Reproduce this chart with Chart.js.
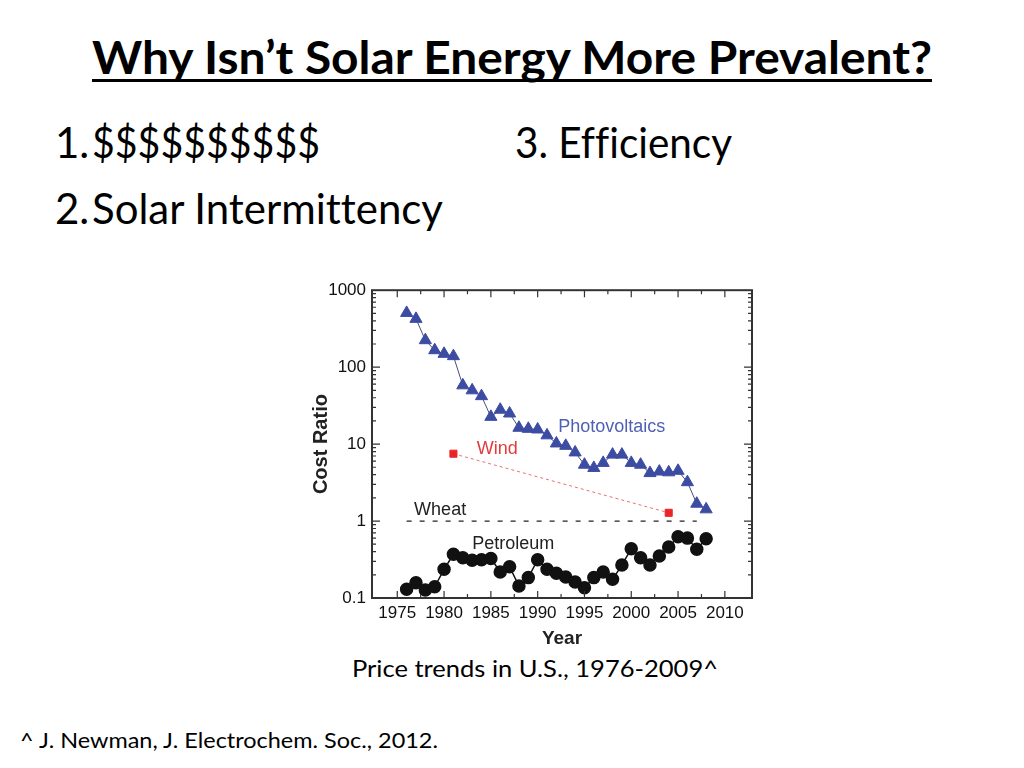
<!DOCTYPE html>
<html>
<head>
<meta charset="utf-8">
<script src="https://cdn.jsdelivr.net/npm/chart.js@4/dist/chart.umd.min.js"></script>
<style>
  body { margin: 0; background: #fff; width: 1024px; height: 768px; overflow: hidden; position: relative; font-family: Lato, "Open Sans", sans-serif; color: #000; font-variant-ligatures: none; }
  .t { position: absolute; white-space: nowrap; line-height: 1; transform-origin: left top; }
  #box { position: absolute; left: 300px; top: 274px; width: 470px; height: 384px; }
</style>
</head>
<body>
<div class="t" data-w="840" style="left:92px;top:34px;font-size:46px;font-weight:bold">Why Isn’t Solar Energy More Prevalent?</div>
<div style="position:absolute;left:92px;top:79px;width:840px;height:3px;background:#000"></div>
<div class="t" style="left:55px;top:121px;font-size:42px">1.</div>
<div class="t" data-w="228" style="left:92px;top:121px;font-size:42px">$$$$$$$$$$</div>
<div class="t" style="left:55px;top:187px;font-size:42px">2.</div>
<div class="t" data-w="351" style="left:92px;top:187px;font-size:42px">Solar Intermittency</div>
<div class="t" data-w="217" style="left:515px;top:121px;font-size:42px">3. Efficiency</div>
<div class="t" data-w="366" style="left:352px;top:657px;font-size:23px">Price trends in U.S., 1976-2009^</div>
<div class="t" data-w="418" style="left:20px;top:729px;font-size:21px">^ J. Newman, J. Electrochem. Soc., 2012.</div>

<div id="box"><canvas id="myChart" width="470" height="384"></canvas></div>

<script>
// fit slide text to the widths measured on the reference
document.querySelectorAll('.t[data-w]').forEach(el => {
  const w = el.getBoundingClientRect().width;
  el.style.transform = 'scaleX(' + (el.dataset.w / w) + ')';
});

const pvYears = [1976, 1977, 1978, 1979, 1980, 1981, 1982, 1983, 1984, 1985, 1986, 1987, 1988, 1989, 1990, 1991, 1992,
  1993, 1994, 1995, 1996, 1997, 1998, 1999, 2000, 2001, 2002, 2003, 2004, 2005, 2006, 2007, 2008];
const pvValues = [507, 424, 224, 166, 149, 139, 58, 50, 42, 22.6, 28, 25, 16.3, 15.8, 15.5, 13, 10.2,
  9.5, 7.8, 5.4, 4.9, 5.7, 7.3, 7.3, 5.7, 5.4, 4.2, 4.4, 4.3, 4.5, 3.2, 1.68, 1.42];

const windYears = [1981, 2004];
const windValues = [7.5, 1.28];

const wheatYears = [1976, 2007];
const wheatValues = [1, 1];

const oilYears = pvYears;
const oilValues = [0.13, 0.158, 0.127, 0.14, 0.236, 0.37, 0.334, 0.31, 0.315, 0.327, 0.218, 0.255, 0.143, 0.184, 0.315, 0.236, 0.21,
  0.187, 0.161, 0.136, 0.184, 0.218, 0.175, 0.268, 0.437, 0.334, 0.268, 0.351, 0.46, 0.626, 0.6, 0.43, 0.59];

const xTicks = [1975, 1980, 1985, 1990, 1995, 2000, 2005, 2010];
const xTickLabels = ['1975', '1980', '1985', '1990', '1995', '2000', '2005', '2010'];
const yTicks = [0.1, 1, 10, 100, 1000];
const yTickLabels = ['0.1', '1', '10', '100', '1000'];

const labelTexts = ['Photovoltaics', 'Wind', 'Wheat', 'Petroleum'];
const labelYears = [1992.2, 1983.5, 1976.8, 1983.0];
const labelValues = [16.9, 8.5, 1.39, 0.51];
const labelColors = ['#4f5fb5', '#e33a3a', '#222', '#222'];

const pts = (xs, ys) => xs.map((x, i) => ({ x: x, y: ys[i] }));
const FONT = '"Liberation Sans", Arial, sans-serif';

const frameTicks = {
  id: 'frameTicks',
  afterDraw(chart) {
    const { ctx, chartArea: a, scales: { x, y } } = chart;
    ctx.save();
    ctx.strokeStyle = '#333';
    ctx.lineWidth = 1.2;
    ctx.beginPath();
    for (let yr = 1975; yr <= 2010; yr += 2.5) {
      const px = x.getPixelForValue(yr);
      const len = yr % 5 === 0 ? 7 : 4;
      ctx.moveTo(px, a.bottom); ctx.lineTo(px, a.bottom - len);
      ctx.moveTo(px, a.top); ctx.lineTo(px, a.top + len);
    }
    for (let d = 0.1; d < 1000; d *= 10) {
      for (let k = 1; k <= 9; k++) {
        const py = y.getPixelForValue(k * d);
        const len = k === 1 ? 8 : 4;
        ctx.moveTo(a.left, py); ctx.lineTo(a.left + len, py);
        ctx.moveTo(a.right, py); ctx.lineTo(a.right - len, py);
      }
    }
    ctx.stroke();
    ctx.lineWidth = 2;
    ctx.strokeRect(a.left, a.top, a.right - a.left, a.bottom - a.top);
    ctx.restore();
  }
};

const seriesLabels = {
  id: 'seriesLabels',
  afterDatasetsDraw(chart) {
    const { ctx, scales: { x, y } } = chart;
    ctx.save();
    ctx.font = '18px ' + FONT;
    ctx.textBaseline = 'middle';
    ctx.textAlign = 'left';
    labelTexts.forEach((t, i) => {
      ctx.fillStyle = labelColors[i];
      ctx.fillText(t, x.getPixelForValue(labelYears[i]), y.getPixelForValue(labelValues[i]));
    });
    ctx.restore();
  }
};

new Chart(document.getElementById('myChart'), {
  type: 'line',
  data: {
    datasets: [
      {
        label: 'Photovoltaics', data: pts(pvYears, pvValues),
        borderColor: '#4a4d78', borderWidth: 1,
        pointStyle: 'triangle', pointRadius: 7, pointBackgroundColor: '#3d4ca3', pointBorderColor: '#3d4ca3', pointBorderWidth: 1
      },
      {
        label: 'Wind', data: pts(windYears, windValues),
        borderColor: '#ea7070', borderWidth: 1, borderDash: [3, 3],
        pointStyle: 'rect', pointRadius: 5, pointBackgroundColor: '#e8262a', pointBorderColor: '#e8262a'
      },
      {
        label: 'Wheat', data: pts(wheatYears, wheatValues),
        borderColor: '#222', borderWidth: 1.2, borderDash: [5, 8], pointRadius: 0
      },
      {
        label: 'Petroleum', data: pts(oilYears, oilValues),
        borderColor: '#111', borderWidth: 1.5,
        pointStyle: 'circle', pointRadius: 6, pointBackgroundColor: '#111', pointBorderColor: '#111'
      }
    ]
  },
  options: {
    responsive: false,
    animation: false,
    layout: { padding: { top: 8, right: 18, left: 0, bottom: 0 } },
    plugins: { legend: { display: false }, tooltip: { enabled: false } },
    scales: {
      x: {
        type: 'linear', min: 1972.3, max: 2012.9,
        afterBuildTicks: s => { s.ticks = xTicks.map(v => ({ value: v })); },
        afterFit: s => { s.height = 60; },
        grid: { drawOnChartArea: false, drawTicks: false },
        border: { display: false },
        ticks: { font: { family: FONT, size: 17 }, color: '#111', padding: 5, maxRotation: 0, autoSkip: false,
          callback: (v, i) => xTickLabels[i] },
        title: { display: true, text: 'Year', font: { family: FONT, size: 19, weight: 'bold' }, color: '#222', padding: { top: 0, bottom: 8 } }
      },
      y: {
        type: 'logarithmic', min: 0.1, max: 1000,
        afterBuildTicks: s => { s.ticks = yTicks.map(v => ({ value: v })); },
        afterFit: s => { s.width = 72; },
        grid: { drawOnChartArea: false, drawTicks: false },
        border: { display: false },
        ticks: { font: { family: FONT, size: 17 }, color: '#111', padding: 6, autoSkip: false,
          callback: (v, i) => yTickLabels[i] },
        title: { display: true, text: 'Cost Ratio', font: { family: FONT, size: 20, weight: 'bold' }, color: '#222', padding: { top: 9, bottom: 0 } }
      }
    }
  },
  plugins: [frameTicks, seriesLabels]
});
</script>
</body>
</html>
